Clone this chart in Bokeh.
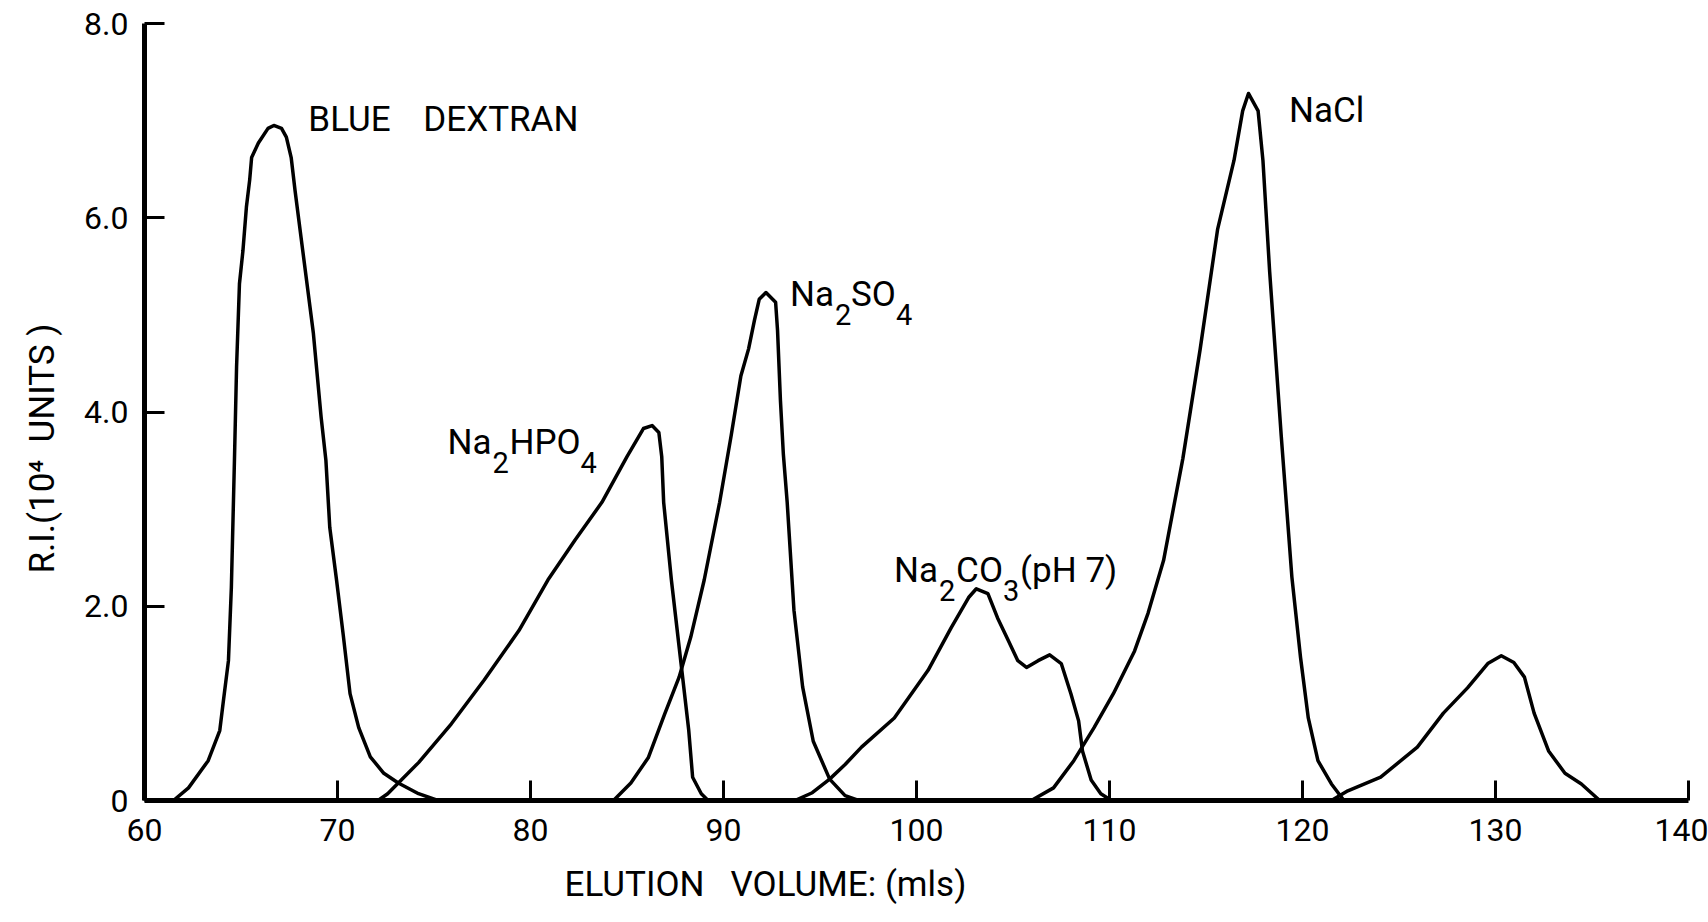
from bokeh.plotting import figure
from bokeh.models import Label, FixedTicker, Title
from bokeh.embed import file_html
from bokeh.resources import INLINE

# Elution profiles: elution volume (mls) vs refractive index (10^4 units)
blue_dextran_v = [61.5, 62.28, 63.3, 63.9, 64.09, 64.35, 64.5, 64.66, 64.77, 64.92, 65.1, 65.28,
                  65.45, 65.55, 65.9, 66.4, 66.7, 67.1, 67.35, 67.6, 67.8, 68.2, 68.75, 69.15,
                  69.4, 69.6, 69.95, 70.3, 70.65, 71.1, 71.7, 72.4, 73.15, 74.2, 75.2]
blue_dextran_ri = [0.0, 0.13, 0.41, 0.72, 1.03, 1.44, 2.19, 3.5, 4.46, 5.32, 5.66, 6.11,
                   6.39, 6.62, 6.77, 6.92, 6.95, 6.92, 6.83, 6.62, 6.28, 5.66, 4.81, 3.95,
                   3.5, 2.81, 2.27, 1.7, 1.1, 0.75, 0.45, 0.28, 0.18, 0.07, 0.0]

na2hpo4_v = [72.1, 72.6, 73.15, 74.2, 75.9, 77.6, 79.4, 80.9, 82.3, 83.7, 85.0, 85.85, 86.3,
             86.65, 86.8, 86.9, 87.3, 87.8, 88.2, 88.4, 88.85, 89.2]
na2hpo4_ri = [0.0, 0.07, 0.18, 0.39, 0.79, 1.24, 1.75, 2.27, 2.68, 3.07, 3.54, 3.83, 3.86,
              3.79, 3.54, 3.07, 2.27, 1.41, 0.72, 0.24, 0.07, 0.0]

na2so4_v = [84.3, 85.2, 86.1, 86.95, 87.7, 88.3, 89.0, 89.8, 90.4, 90.9, 91.3, 91.6, 91.85,
            92.2, 92.7, 92.8, 92.95, 93.1, 93.3, 93.65, 94.1, 94.65, 95.5, 96.3, 97.0]
na2so4_ri = [0.0, 0.18, 0.44, 0.89, 1.27, 1.68, 2.27, 3.07, 3.76, 4.37, 4.65, 4.94, 5.16,
             5.23, 5.13, 4.84, 4.12, 3.57, 3.07, 1.96, 1.17, 0.61, 0.22, 0.05, 0.0]

na2co3_v = [93.7, 94.6, 95.5, 96.3, 97.15, 98.85, 100.6, 101.8, 102.7, 103.1, 103.7, 104.2,
            104.75, 105.25, 105.7, 106.3, 106.9, 107.5, 108.0, 108.4, 108.6, 109.05, 109.55, 110.1]
na2co3_ri = [0.0, 0.08, 0.22, 0.37, 0.55, 0.85, 1.34, 1.78, 2.09, 2.18, 2.13, 1.88,
             1.65, 1.44, 1.37, 1.44, 1.5, 1.41, 1.1, 0.82, 0.51, 0.21, 0.07, 0.0]

nacl_v = [105.95, 107.1, 108.15, 109.2, 110.2, 111.3, 112.0, 112.8, 113.8, 114.7, 115.6,
          116.45, 116.9, 117.2, 117.7, 117.95, 118.3, 118.9, 119.45, 119.9, 120.3, 120.8,
          121.5, 122.15]
nacl_ri = [0.0, 0.13, 0.41, 0.75, 1.1, 1.54, 1.93, 2.47, 3.52, 4.65, 5.88,
           6.59, 7.1, 7.28, 7.1, 6.59, 5.44, 3.75, 2.3, 1.47, 0.85, 0.41,
           0.17, 0.0]

late_peak_v = [121.5, 122.35, 124.05, 125.95, 127.3, 128.55, 129.6, 130.3, 130.95, 131.5,
               132.0, 132.75, 133.6, 134.45, 135.4]
late_peak_ri = [0.0, 0.1, 0.24, 0.55, 0.9, 1.16, 1.41, 1.49, 1.42, 1.27,
                0.9, 0.51, 0.28, 0.17, 0.0]

x_ticks = [60, 70, 80, 90, 100, 110, 120, 130, 140]
y_ticks = [0, 2, 4, 6, 8]
y_tick_labels = ["0", "2.0", "4.0", "6.0", "8.0"]

x_title = "ELUTION\u00a0\u00a0\u00a0VOLUME:\u00a0(mls)"
y_title = "R.I.(10\u2074\u00a0\u00a0UNITS\u00a0)"

FONT = "Roboto"
MAIN = "35px"
SUB = "29px"
LIFT = 13  # raises label text so its baseline sits on the anchor value

p = figure(width=1708, height=922, x_range=(60, 140), y_range=(0, 8),
           output_backend="svg", toolbar_location=None,
           min_border_left=143, min_border_right=20, min_border_top=23, min_border_bottom=122)
p.xgrid.visible = False
p.ygrid.visible = False
p.outline_line_color = None
p.background_fill_color = "white"
p.border_fill_color = "white"

curves = [(blue_dextran_v, blue_dextran_ri), (na2hpo4_v, na2hpo4_ri), (na2so4_v, na2so4_ri),
          (na2co3_v, na2co3_ri), (nacl_v, nacl_ri), (late_peak_v, late_peak_ri)]
for vs, ri in curves:
    p.line(vs, ri, line_color="black", line_width=3.5, line_join="round", line_cap="round")

for ax in (p.xaxis[0], p.yaxis[0]):
    ax.axis_line_width = 5
    ax.axis_line_color = "black"
    ax.major_tick_line_width = 3
    ax.major_tick_line_color = "black"
    ax.major_tick_in = 20
    ax.major_tick_out = 0
    ax.minor_tick_in = 0
    ax.minor_tick_out = 0
    ax.major_label_text_font = FONT
    ax.major_label_text_font_size = "32px"
    ax.major_label_text_color = "black"

p.xaxis[0].ticker = FixedTicker(ticks=x_ticks)
p.xaxis[0].major_label_standoff = 18
p.yaxis[0].ticker = FixedTicker(ticks=y_ticks)
p.yaxis[0].major_label_overrides = {t: s for t, s in zip(y_ticks, y_tick_labels)}
p.yaxis[0].major_label_standoff = 16

# axis titles, set off-centre along their axes
p.add_layout(Title(text=x_title, align="left", offset=420, standoff=36,
                   text_font=FONT, text_font_size="35px", text_font_style="normal",
                   text_color="black"), "below")
p.add_layout(Title(text=y_title, align="left", offset=227, standoff=38,
                   text_font=FONT, text_font_size="35px", text_font_style="normal",
                   text_color="black"), "left")


def add_text(x, y, pieces):
    """pieces: (text, dx, dy, size) with pixel offsets from the anchor."""
    for text, dx, dy, size in pieces:
        p.add_layout(Label(x=x, y=y, text=text, x_offset=dx, y_offset=dy + LIFT,
                           text_font=FONT, text_font_size=size, text_color="black",
                           text_align="left", text_baseline="alphabetic"))


# peak labels
add_text(68.49, 6.88, [("BLUE", 0, 0, MAIN), ("DEXTRAN", 115, 0, MAIN)])
add_text(119.3, 6.97, [("NaCl", 0, 0, MAIN)])
add_text(93.45, 5.08, [("Na", 0, 0, MAIN), ("2", 45, -20, SUB), ("SO", 61, 0, MAIN), ("4", 106, -20, SUB)])
add_text(75.7, 3.55, [("Na", 0, 0, MAIN), ("2", 45, -20, SUB), ("HPO", 62, 0, MAIN), ("4", 133, -20, SUB)])
add_text(98.84, 2.23, [("Na", 0, 0, MAIN), ("2", 45, -20, SUB), ("CO", 62, 0, MAIN), ("3", 109, -20, SUB),
                       ("(pH 7)", 126, 0, MAIN)])

open("out.html", "w").write(file_html(p, INLINE))
